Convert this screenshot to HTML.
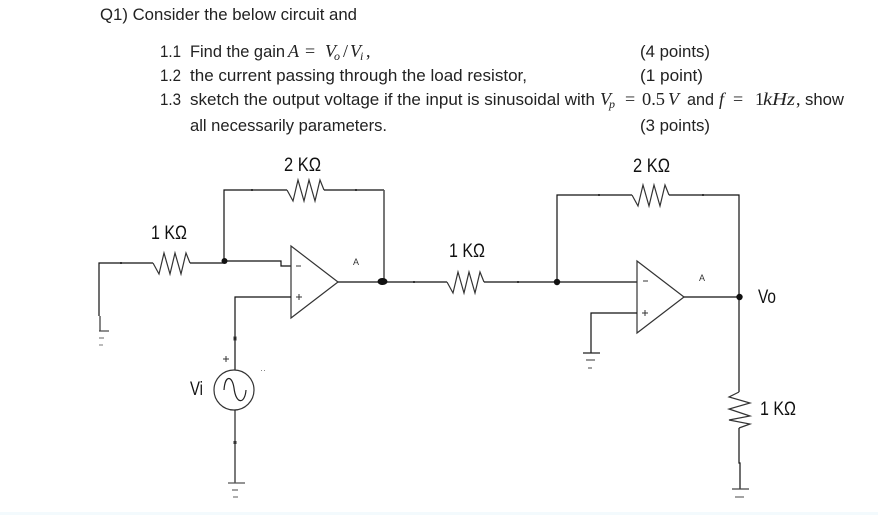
<!DOCTYPE html>
<html>
<head>
<meta charset="utf-8">
<style>
html,body{margin:0;padding:0;background:#fff;width:878px;height:515px;overflow:hidden}
svg{display:block}
.t{font-family:"Liberation Sans",sans-serif;font-size:16.500px;fill:#222}
.m{font-family:"Liberation Serif",serif;font-size:18px;fill:#222}
.i{font-style:italic}
.s{font-size:12px}
.l{font-family:"Liberation Sans",sans-serif;font-size:19px;fill:#111}
.w{fill:none;stroke:#111;stroke-width:1.200}
.g{fill:none;stroke:#333;stroke-width:1.200}
</style>
</head>
<body>
<svg width="878" height="515" viewBox="0 0 878 515" xmlns="http://www.w3.org/2000/svg">
<rect width="878" height="515" fill="#fff"/>
<rect y="512" width="878" height="3" fill="#f3fafd"/>

<!-- Question text -->
<text class="t" x="100" y="20" textLength="257" lengthAdjust="spacingAndGlyphs">Q1) Consider the below circuit and</text>
<text class="t" x="160" y="57" textLength="21" lengthAdjust="spacingAndGlyphs">1.1</text>
<text class="t" x="190" y="57" textLength="95" lengthAdjust="spacingAndGlyphs">Find the gain</text>
<text class="m i" x="288" y="57">A</text>
<text class="m" x="305" y="57">=</text>
<text class="m i" x="325" y="57">V</text>
<text class="m i s" x="334" y="60">o</text>
<text class="m" x="343" y="57">/</text>
<text class="m i" x="350" y="57">V</text>
<text class="m i s" x="360" y="60">i</text>
<text class="m" x="366" y="57">,</text>
<text class="t" x="640" y="57" textLength="70" lengthAdjust="spacingAndGlyphs">(4 points)</text>

<text class="t" x="160" y="81" textLength="21" lengthAdjust="spacingAndGlyphs">1.2</text>
<text class="t" x="190" y="81" textLength="337" lengthAdjust="spacingAndGlyphs">the current passing through the load resistor,</text>
<text class="t" x="640" y="81" textLength="63" lengthAdjust="spacingAndGlyphs">(1 point)</text>

<text class="t" x="160" y="105" textLength="21" lengthAdjust="spacingAndGlyphs">1.3</text>
<text class="t" x="190" y="105" textLength="405" lengthAdjust="spacingAndGlyphs">sketch the output voltage if the input is sinusoidal with</text>
<text class="m i" x="600" y="105">V</text>
<text class="m i s" x="609" y="108">p</text>
<text class="m" x="625" y="105">=</text>
<text class="m" x="642" y="105" textLength="23" lengthAdjust="spacingAndGlyphs">0.5</text>
<text class="m i" x="668" y="105">V</text>
<text class="t" x="687" y="105" textLength="27" lengthAdjust="spacingAndGlyphs">and</text>
<text class="m i" x="719" y="105">f</text>
<text class="m" x="733" y="105">=</text>
<text class="m" x="755" y="105">1</text>
<text class="m i" x="763" y="105" textLength="32" lengthAdjust="spacingAndGlyphs">kHz</text>
<text class="m" x="796" y="105">,</text>
<text class="t" x="805" y="105" textLength="39" lengthAdjust="spacingAndGlyphs">show</text>

<text class="t" x="190" y="131" textLength="197" lengthAdjust="spacingAndGlyphs">all necessarily parameters.</text>
<text class="t" x="640" y="131" textLength="70" lengthAdjust="spacingAndGlyphs">(3 points)</text>

<!-- Left stage wiring -->
<polyline class="w" points="99,316 99,263 153,263"/>
<polyline class="g" points="153,263 159,274 164,253 170,274 175,253 181,274 186,253 190,263"/>
<polyline class="w" points="190,263 224,263"/>
<polyline class="w" points="224,261 224,190 287,190"/>
<polyline class="g" points="287,190 293,201 298,180 304,201 309,180 315,201 320,180 324,190"/>
<polyline class="w" points="324,190 384,190"/>
<line x1="384" y1="190" x2="384" y2="282" stroke="#555" stroke-width="1.600"/>
<polyline class="w" points="224,261 281,261 281,266 291,266"/>
<polygon points="291,246 338,282 291,318" fill="none" stroke="#333" stroke-width="1.200"/>
<line x1="338" y1="282" x2="447" y2="282" stroke="#111" stroke-width="1.200"/>
<polyline class="w" points="291,297 235,297 235,370"/>

<!-- Left ground -->
<line x1="100" y1="316" x2="100" y2="331" stroke="#333" stroke-width="1.200"/>
<line x1="99" y1="331" x2="109" y2="331" stroke="#444" stroke-width="1.200"/>
<line x1="99" y1="338" x2="104" y2="338" stroke="#666"/>
<line x1="99" y1="345" x2="103" y2="345" stroke="#777"/>

<!-- Middle resistor -->
<polyline class="g" points="447,282 453,293 458,272 464,293 469,272 475,293 480,272 484,282"/>
<line x1="484" y1="282" x2="637" y2="282" stroke="#111" stroke-width="1.200"/>

<!-- Right stage -->
<polyline class="w" points="557,282 557,195 632,195"/>
<polyline class="g" points="632,195 638,206 643,185 649,206 654,185 660,206 665,185 669,195"/>
<polyline class="w" points="669,195 739,195 739,392"/>
<polygon points="637,261 684,297 637,333" fill="none" stroke="#333" stroke-width="1.200"/>
<line x1="684" y1="297" x2="739" y2="297" stroke="#111" stroke-width="1.200"/>
<polyline class="w" points="637,313 591,313 591,353"/>
<line x1="583" y1="353" x2="600" y2="353" stroke="#222" stroke-width="1.200"/>
<line x1="586" y1="360" x2="595" y2="360" stroke="#555" stroke-width="1.200"/>
<line x1="588" y1="368" x2="592" y2="368" stroke="#666" stroke-width="1.200"/>

<!-- Load -->
<polyline class="g" points="739,392 729,397 750,403 729,409 750,416 729,420 750,424 739,428"/>
<polyline class="w" points="739,428 739,463 740,463 740,489"/>
<line x1="732" y1="489" x2="749" y2="489" stroke="#444" stroke-width="1.200"/>
<line x1="735" y1="497" x2="744" y2="497" stroke="#666" stroke-width="1.200"/>

<!-- Source -->
<circle cx="234" cy="390" r="20" fill="none" stroke="#333" stroke-width="1.200"/>
<path d="M224,390 C225,375 232,375 234,388 C236,405 245,404 246,390" fill="none" stroke="#222" stroke-width="1.200"/>
<line x1="235" y1="410" x2="235" y2="483" stroke="#222" stroke-width="1.200"/>
<line x1="228" y1="483" x2="245" y2="483" stroke="#555" stroke-width="1.200"/>
<line x1="232" y1="490" x2="238" y2="490" stroke="#666" stroke-width="1.200"/>
<line x1="233" y1="497" x2="238" y2="497" stroke="#777" stroke-width="1.200"/>
<rect x="234" y="337" width="2" height="3" fill="none" stroke="#333" stroke-width="1"/>
<rect x="233.500" y="441" width="3" height="3" fill="#333"/>

<!-- Tick marks -->
<g fill="#333">
<rect x="120" y="262" width="2" height="2"/>
<rect x="251" y="189" width="2" height="2"/>
<rect x="355" y="189" width="2" height="2"/>
<rect x="413" y="281" width="2" height="2"/>
<rect x="517" y="281" width="2" height="2"/>
<rect x="598" y="194" width="2" height="2"/>
<rect x="702" y="194" width="2" height="2"/>
</g>

<!-- Junction dots -->
<circle cx="224.500" cy="261" r="3" fill="#111"/>
<ellipse cx="382.500" cy="281.500" rx="5" ry="3.500" fill="#111"/>
<circle cx="557" cy="282" r="3.200" fill="#111"/>
<circle cx="739.500" cy="297" r="3.200" fill="#111"/>

<!-- Op-amp pin signs -->
<line x1="296" y1="266" x2="301" y2="266" stroke="#333"/>
<line x1="296" y1="297" x2="302" y2="297" stroke="#333"/><line x1="299" y1="294" x2="299" y2="300" stroke="#333"/>
<line x1="643" y1="281" x2="648" y2="281" stroke="#333"/>
<line x1="642" y1="313" x2="648" y2="313" stroke="#333"/><line x1="645" y1="310" x2="645" y2="316" stroke="#333"/>
<line x1="223" y1="359" x2="229" y2="359" stroke="#333"/><line x1="226" y1="356" x2="226" y2="362" stroke="#333"/>
<rect x="261" y="370" width="1" height="1" fill="#888"/><rect x="264" y="370" width="1" height="1" fill="#888"/>

<!-- Labels -->
<text class="l" x="284" y="171" textLength="37" lengthAdjust="spacingAndGlyphs">2 KΩ</text>
<text class="l" x="633" y="172" textLength="37" lengthAdjust="spacingAndGlyphs">2 KΩ</text>
<text class="l" x="151" y="239" textLength="36" lengthAdjust="spacingAndGlyphs">1 KΩ</text>
<text class="l" x="449" y="257" textLength="36" lengthAdjust="spacingAndGlyphs">1 KΩ</text>
<text class="l" x="760" y="415" textLength="36" lengthAdjust="spacingAndGlyphs">1 KΩ</text>
<text class="l" x="758" y="303" textLength="18" lengthAdjust="spacingAndGlyphs">Vo</text>
<text class="l" x="190" y="395" textLength="13" lengthAdjust="spacingAndGlyphs">Vi</text>
<text x="353" y="265" font-family="Liberation Sans, sans-serif" font-size="9" fill="#333">A</text>
<text x="699" y="281" font-family="Liberation Sans, sans-serif" font-size="9" fill="#333">A</text>
</svg>
</body>
</html>
